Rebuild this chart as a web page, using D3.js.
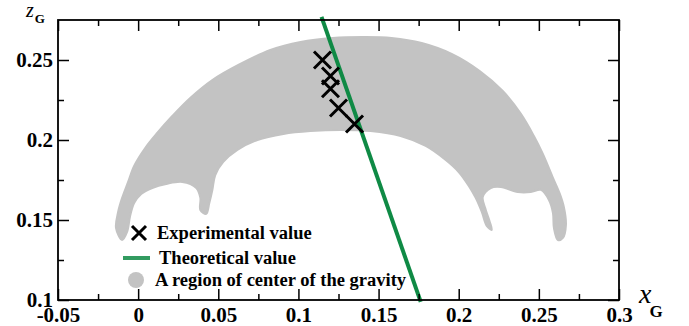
<!DOCTYPE html>
<html><head><meta charset="utf-8">
<script src="https://cdn.jsdelivr.net/npm/d3@7"></script>
<style>
html,body{margin:0;padding:0;background:#fff;}
svg{display:block;}
</style></head>
<body><svg id="c" width="689" height="326"></svg>
<script>
// ---- data ----
const xTickValues = [-0.05, 0, 0.05, 0.1, 0.15, 0.2, 0.25, 0.3];
const xTickLabels = ["-0.05", "0", "0.05", "0.1", "0.15", "0.2", "0.25", "0.3"];
const xMinorTicks = [-0.025, 0.025, 0.075, 0.125, 0.175, 0.225, 0.275];
const yTickValues = [0.1, 0.15, 0.2, 0.25];
const yTickLabels = ["0.1", "0.15", "0.2", "0.25"];
const yMinorTicks = [0.125, 0.175, 0.225];

// experimental values (x_G, z_G)
const expX = [0.115, 0.12, 0.12, 0.125, 0.135];
const expZ = [0.25, 0.24, 0.232, 0.22, 0.21];

// theoretical value line
const theoX = [0.1144, 0.1763];
const theoZ = [0.2769, 0.0988];

// boundary of the region of center of the gravity
const regionX = [-0.010,-0.0138,-0.0125,-0.010,-0.00625,-0.0025,0.0044,0.0119,0.0213,0.0325,0.0463,0.0625,0.0825,0.1013,0.1213,0.1413,0.1581,0.1769,
  0.1956,0.2131,0.2275,0.2388,0.2469,0.2525,0.2588,0.2631,0.2656,0.2669,0.265,0.2619,
  0.2594,0.2588,0.2563,0.2513,0.245,0.2369,0.2263,0.22,0.215,0.2169,0.2194,0.2206,0.2175,0.2144,0.2106,0.2063,0.2,0.1919,0.1794,0.1638,0.145,0.1263,0.1075,0.0906,0.0744,0.0619,0.0531,0.0481,0.0463,0.0444,0.0425,0.0388,0.0388,0.0363,0.0275,0.0175,0.0088,0.0019,-0.0025,-0.005,-0.0069];
const regionZ = [0.1375,0.145,0.155,0.1638,0.1738,0.1838,0.195,0.2044,0.215,0.2263,0.2375,0.2469,0.2563,0.2613,0.2638,0.2644,0.2638,0.2606,
  0.2538,0.2431,0.2306,0.2163,0.2025,0.1913,0.1763,0.1663,0.1581,0.1469,0.1388,0.1375,
  0.145,0.1544,0.1625,0.1688,0.1675,0.1675,0.1706,0.17,0.1644,0.1563,0.1488,0.1438,0.1463,0.155,0.1638,0.1713,0.18,0.1875,0.1963,0.2025,0.2056,0.2063,0.2056,0.2038,0.2,0.1938,0.1863,0.1781,0.1688,0.1606,0.1538,0.1563,0.1638,0.17,0.1738,0.1725,0.17,0.1663,0.1606,0.1525,0.1425];

const legendLabels = ["Experimental value", "Theoretical value", "A region of center of the gravity"];

// ---- drawing ----
const FONT = "'Liberation Serif', 'Times New Roman', Times, serif";
const svg = d3.select("#c");
const L = 58, R = 619, T = 20, B = 300;
const x = d3.scaleLinear().domain([-0.05, 0.3]).range([L, R]);
const y = d3.scaleLinear().domain([0.1, 0.275]).range([B, T]);
const gray = "#c3c3c3", green = "#0f8a45";

// region
const region = d3.range(regionX.length).map(i => [regionX[i], regionZ[i]]);
svg.append("path")
  .attr("d", d3.line().x(d => x(d[0])).y(d => y(d[1])).curve(d3.curveCatmullRomClosed.alpha(0.5))(region))
  .attr("fill", gray).attr("stroke", gray).attr("stroke-width", 2);

// theoretical line
svg.append("line")
  .attr("x1", x(theoX[0])).attr("y1", y(theoZ[0]))
  .attr("x2", x(theoX[1])).attr("y2", y(theoZ[1]))
  .attr("stroke", green).attr("stroke-width", 4);

// experimental markers
const cross = (g, cx, cy, s) => {
  g.append("path").attr("d", `M${cx-s},${cy-s}L${cx+s},${cy+s}M${cx-s},${cy+s}L${cx+s},${cy-s}`)
    .attr("stroke", "#000").attr("stroke-width", 3).attr("fill", "none");
};
const mk = svg.append("g");
expX.forEach((v, i) => cross(mk, x(v), y(expZ[i]), 8.5));

// axes
const fmt = (vals, labs) => d => labs[vals.indexOf(d)];
function styleAxis(g) {
  g.select(".domain").remove();
  g.attr("font-family", null);
  g.selectAll(".tick line").attr("stroke", "#000").attr("stroke-width", 1.5);
  g.selectAll("text").style("font-family", FONT).style("font-weight", "bold")
    .style("font-size", "21px").attr("fill", "#000");
}
svg.append("g").attr("transform", `translate(0,${B})`)
  .call(d3.axisBottom(x).tickValues(xTickValues).tickFormat(fmt(xTickValues, xTickLabels)).tickSize(-11).tickPadding(7))
  .call(styleAxis);
svg.append("g").attr("transform", `translate(0,${B})`)
  .call(d3.axisBottom(x).tickValues(xMinorTicks).tickFormat("").tickSize(-6)).call(styleAxis);
svg.append("g").attr("transform", `translate(0,${T})`)
  .call(d3.axisTop(x).tickValues(xTickValues).tickFormat("").tickSize(-11)).call(styleAxis);
svg.append("g").attr("transform", `translate(0,${T})`)
  .call(d3.axisTop(x).tickValues(xMinorTicks).tickFormat("").tickSize(-6)).call(styleAxis);
svg.append("g").attr("transform", `translate(${L},0)`)
  .call(d3.axisLeft(y).tickValues(yTickValues).tickFormat(fmt(yTickValues, yTickLabels)).tickSize(-11).tickPadding(5))
  .call(styleAxis);
svg.append("g").attr("transform", `translate(${L},0)`)
  .call(d3.axisLeft(y).tickValues(yMinorTicks).tickFormat("").tickSize(-6)).call(styleAxis);
svg.append("g").attr("transform", `translate(${R},0)`)
  .call(d3.axisRight(y).tickValues(yTickValues).tickFormat("").tickSize(-11)).call(styleAxis);
svg.append("g").attr("transform", `translate(${R},0)`)
  .call(d3.axisRight(y).tickValues(yMinorTicks).tickFormat("").tickSize(-6)).call(styleAxis);

// frame
svg.append("rect").attr("x", L).attr("y", T).attr("width", R - L).attr("height", B - T)
  .attr("fill", "none").attr("stroke", "#000").attr("stroke-width", 1.8);

// axis titles
const zt = svg.append("text").attr("x", 26).attr("y", 17).style("font-family", FONT);
zt.append("tspan").style("font-style", "italic").style("font-size", "20px").text("z");
zt.append("tspan").style("font-size", "13px").style("font-weight", "bold").attr("dx", 1).attr("dy", 6).text("G");
const xt = svg.append("text").attr("x", 639).attr("y", 303).style("font-family", FONT);
xt.append("tspan").style("font-style", "italic").style("font-size", "28px").text("x");
xt.append("tspan").style("font-size", "17px").style("font-weight", "bold").attr("dx", -2).attr("dy", 14).text("G");

// legend
const lg = svg.append("g");
const lx = 139, ly = [233, 258, 280];
cross(lg, lx, ly[0], 7);
lg.append("line").attr("x1", lx - 16).attr("x2", lx + 11).attr("y1", ly[1]).attr("y2", ly[1])
  .attr("stroke", green).attr("stroke-width", 4).attr("opacity", 0.85);
lg.append("circle").attr("cx", lx - 3).attr("cy", ly[2]).attr("r", 8).attr("fill", gray);
legendLabels.forEach((t, i) => {
  lg.append("text").attr("x", [157, 159, 155][i]).attr("y", ly[i]).attr("dy", "0.33em")
    .style("font-family", FONT).style("font-size", "18.5px").style("font-weight", "bold").text(t);
});
</script></body></html>
